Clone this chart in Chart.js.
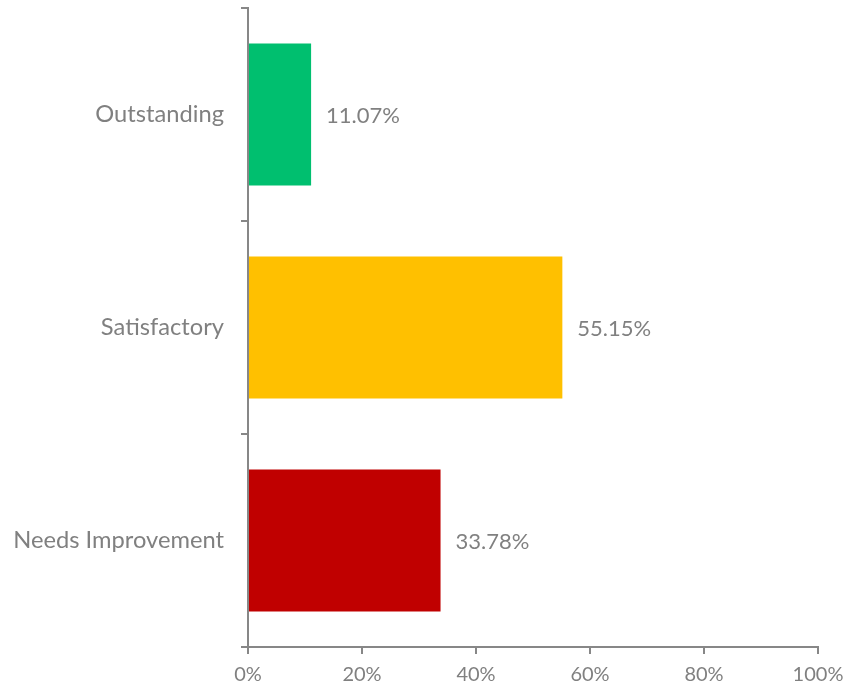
<!DOCTYPE html>
<html>
<head>
<meta charset="utf-8">
<script src="https://cdn.jsdelivr.net/npm/chart.js@4"></script>
<style>
  html, body { margin: 0; padding: 0; background: #ffffff; }
  #grafica { display: block; }
</style>
</head>
<body>
<canvas id="grafica" width="845" height="688"></canvas>
<script>
const categorias = ['Outstanding', 'Satisfactory', 'Needs Improvement'];
const valores = [11.07, 55.15, 33.78];
const colores = ['#00BF6F', '#FFC000', '#C00000'];
const marcasX = [0, 20, 40, 60, 80, 100];

const colorTexto = '#808080';
const colorEje = '#878787';
const fuente = 'Lato, "Open Sans", sans-serif';

// etiquetas de valor a la derecha de cada barra
const etiquetasValor = {
    id: 'etiquetasValor',
    afterDatasetsDraw: function(grafica) {
        const ctx = grafica.ctx;
        const meta = grafica.getDatasetMeta(0);
        ctx.save();
        ctx.font = '22px ' + fuente;
        ctx.fillStyle = colorTexto;
        ctx.textAlign = 'left';
        ctx.textBaseline = 'middle';
        meta.data.forEach(function(barra, i) {
            ctx.fillText(valores[i].toFixed(2) + '%', barra.x + 15, barra.y + 1);
        });
        ctx.restore();
    }
};

new Chart(document.getElementById('grafica'), {
    type: 'bar',
    data: {
        labels: categorias,
        datasets: [{
            data: valores,
            backgroundColor: colores,
            borderWidth: 0,
            categoryPercentage: 0.667,
            barPercentage: 1
        }]
    },
    options: {
        indexAxis: 'y',
        responsive: false,
        animation: false,
        layout: {
            padding: { top: 8, right: 27, left: 0, bottom: 0 }
        },
        plugins: {
            legend: { display: false },
            tooltip: { enabled: false }
        },
        scales: {
            x: {
                min: 0,
                max: 100,
                afterBuildTicks: function(eje) {
                    eje.ticks = marcasX.map(function(v) { return { value: v }; });
                },
                afterFit: function(eje) {
                    eje.height = 41;
                    eje.paddingLeft = 0;
                    eje.paddingRight = 0;
                },
                grid: {
                    display: true,
                    drawOnChartArea: false,
                    drawTicks: true,
                    tickLength: 7,
                    color: colorEje,
                    lineWidth: 2
                },
                border: {
                    display: true,
                    color: colorEje,
                    width: 2
                },
                ticks: {
                    color: colorTexto,
                    padding: 9,
                    maxRotation: 0,
                    font: { family: fuente, size: 20 },
                    callback: function(valor) { return valor + '%'; }
                }
            },
            y: {
                afterFit: function(eje) {
                    eje.width = 248;
                    eje.paddingTop = 0;
                    eje.paddingBottom = 0;
                },
                grid: {
                    display: true,
                    offset: true,
                    drawOnChartArea: false,
                    drawTicks: true,
                    tickLength: 7,
                    color: colorEje,
                    lineWidth: 2
                },
                border: {
                    display: true,
                    color: colorEje,
                    width: 2
                },
                ticks: {
                    color: colorTexto,
                    padding: 17,
                    font: { family: fuente, size: 23.7 }
                }
            }
        }
    },
    plugins: [etiquetasValor]
});
</script>
</body>
</html>
